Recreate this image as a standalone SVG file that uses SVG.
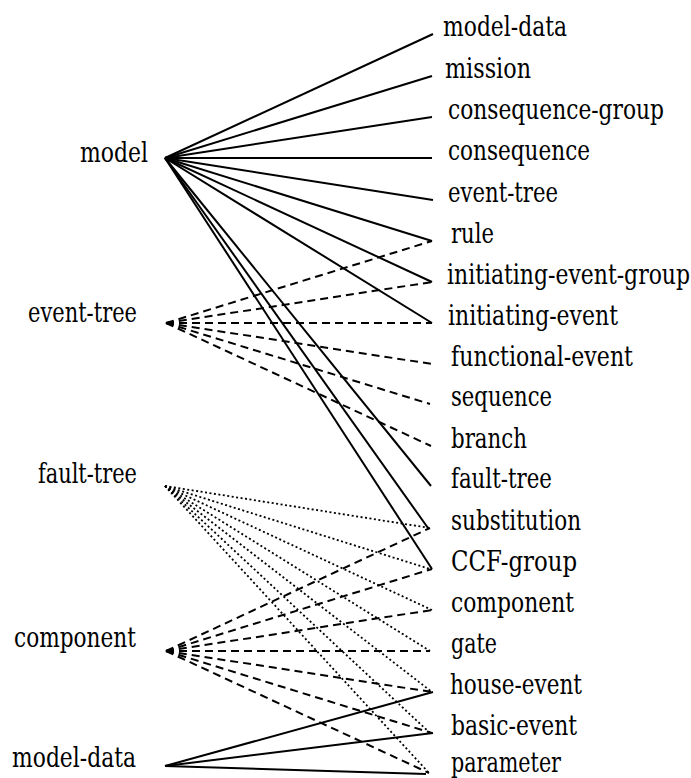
<svg xmlns="http://www.w3.org/2000/svg" width="691" height="778" viewBox="0 0 691 778">
  <style>
    .lbl { font-family: 'DejaVu Serif', serif; font-size: 28px; fill: #000; }
    .src { text-anchor: end; }
    line { stroke: #000; stroke-width: 2; fill: none; }
    .dash { stroke-dasharray: 8 5; }
    .dot { stroke-dasharray: 2 2.5; stroke-width: 1.8; }
  </style>
  <rect width="691" height="778" fill="#fff"/>

  <!-- connectors: solid = model/model-data, dashed = event-tree/component, dotted = fault-tree -->
  <g id="connectors">
    <!-- model -->
    <line x1="165" y1="158" x2="433" y2="34"/>
    <line x1="165" y1="158" x2="432" y2="76"/>
    <line x1="165" y1="158" x2="432" y2="117"/>
    <line x1="165" y1="158" x2="432" y2="158"/>
    <line x1="165" y1="158" x2="433" y2="200"/>
    <line x1="165" y1="158" x2="432" y2="241"/>
    <line x1="165" y1="158" x2="432" y2="282"/>
    <line x1="165" y1="158" x2="432" y2="323"/>
    <line x1="165" y1="158" x2="431" y2="486"/>
    <line x1="165" y1="158" x2="428" y2="528"/>
    <line x1="165" y1="158" x2="432" y2="569"/>
    <!-- event-tree -->
    <line class="dash" x1="166" y1="323" x2="432" y2="241"/>
    <line class="dash" x1="166" y1="323" x2="432" y2="282"/>
    <line class="dash" x1="166" y1="323" x2="432" y2="323"/>
    <line class="dash" x1="166" y1="323" x2="432" y2="364"/>
    <line class="dash" x1="166" y1="323" x2="430" y2="404"/>
    <line class="dash" x1="166" y1="323" x2="431" y2="446"/>
    <!-- fault-tree -->
    <line class="dot" x1="165" y1="486" x2="430" y2="528"/>
    <line class="dot" x1="165" y1="486" x2="430" y2="569"/>
    <line class="dot" x1="165" y1="486" x2="432" y2="610"/>
    <line class="dot" x1="165" y1="486" x2="430" y2="651"/>
    <line class="dot" x1="165" y1="486" x2="432" y2="692"/>
    <line class="dot" x1="165" y1="486" x2="430" y2="733"/>
    <line class="dot" x1="165" y1="486" x2="429" y2="773"/>
    <!-- component -->
    <line class="dash" x1="166" y1="651" x2="430" y2="528"/>
    <line class="dash" x1="166" y1="651" x2="432" y2="569"/>
    <line class="dash" x1="166" y1="651" x2="432" y2="610"/>
    <line class="dash" x1="166" y1="651" x2="430" y2="651"/>
    <line class="dash" x1="166" y1="651" x2="432" y2="692"/>
    <line class="dash" x1="166" y1="651" x2="432" y2="733"/>
    <line class="dash" x1="166" y1="651" x2="429" y2="773"/>
    <!-- model-data -->
    <line x1="165" y1="766" x2="433" y2="692"/>
    <line x1="165" y1="766" x2="433" y2="733"/>
    <line x1="165" y1="766" x2="426" y2="774"/>
  </g>

  <!-- source elements -->
  <g id="src-model"><text class="lbl src" x="148" y="162" textLength="68" lengthAdjust="spacingAndGlyphs">model</text></g>
  <g id="src-event-tree"><text class="lbl src" x="137" y="322" textLength="109" lengthAdjust="spacingAndGlyphs">event-tree</text></g>
  <g id="src-fault-tree"><text class="lbl src" x="137" y="483" textLength="99" lengthAdjust="spacingAndGlyphs">fault-tree</text></g>
  <g id="src-component"><text class="lbl src" x="136" y="647" textLength="122" lengthAdjust="spacingAndGlyphs">component</text></g>
  <g id="src-model-data"><text class="lbl src" x="136" y="767" textLength="124" lengthAdjust="spacingAndGlyphs">model-data</text></g>

  <!-- target elements -->
  <g id="t-model-data"><text class="lbl" x="443" y="36" textLength="124" lengthAdjust="spacingAndGlyphs">model-data</text></g>
  <g id="t-mission"><text class="lbl" x="445" y="78" textLength="86" lengthAdjust="spacingAndGlyphs">mission</text></g>
  <g id="t-consequence-group"><text class="lbl" x="448" y="119" textLength="216" lengthAdjust="spacingAndGlyphs">consequence-group</text></g>
  <g id="t-consequence"><text class="lbl" x="448" y="160" textLength="142" lengthAdjust="spacingAndGlyphs">consequence</text></g>
  <g id="t-event-tree"><text class="lbl" x="448" y="202" textLength="110" lengthAdjust="spacingAndGlyphs">event-tree</text></g>
  <g id="t-rule"><text class="lbl" x="451" y="243" textLength="43" lengthAdjust="spacingAndGlyphs">rule</text></g>
  <g id="t-initiating-event-group"><text class="lbl" x="447" y="284" textLength="243" lengthAdjust="spacingAndGlyphs">initiating-event-group</text></g>
  <g id="t-initiating-event"><text class="lbl" x="448" y="325" textLength="170" lengthAdjust="spacingAndGlyphs">initiating-event</text></g>
  <g id="t-functional-event"><text class="lbl" x="451" y="366" textLength="182" lengthAdjust="spacingAndGlyphs">functional-event</text></g>
  <g id="t-sequence"><text class="lbl" x="451" y="406" textLength="101" lengthAdjust="spacingAndGlyphs">sequence</text></g>
  <g id="t-branch"><text class="lbl" x="451" y="448" textLength="76" lengthAdjust="spacingAndGlyphs">branch</text></g>
  <g id="t-fault-tree"><text class="lbl" x="451" y="488" textLength="101" lengthAdjust="spacingAndGlyphs">fault-tree</text></g>
  <g id="t-substitution"><text class="lbl" x="451" y="530" textLength="130" lengthAdjust="spacingAndGlyphs">substitution</text></g>
  <g id="t-CCF-group"><text class="lbl" x="451" y="571" textLength="126" lengthAdjust="spacingAndGlyphs">CCF-group</text></g>
  <g id="t-component"><text class="lbl" x="451" y="612" textLength="123" lengthAdjust="spacingAndGlyphs">component</text></g>
  <g id="t-gate"><text class="lbl" x="451" y="653" textLength="46" lengthAdjust="spacingAndGlyphs">gate</text></g>
  <g id="t-house-event"><text class="lbl" x="450" y="694" textLength="132" lengthAdjust="spacingAndGlyphs">house-event</text></g>
  <g id="t-basic-event"><text class="lbl" x="451" y="735" textLength="126" lengthAdjust="spacingAndGlyphs">basic-event</text></g>
  <g id="t-parameter"><text class="lbl" x="451" y="772" textLength="110" lengthAdjust="spacingAndGlyphs">parameter</text></g>
</svg>
